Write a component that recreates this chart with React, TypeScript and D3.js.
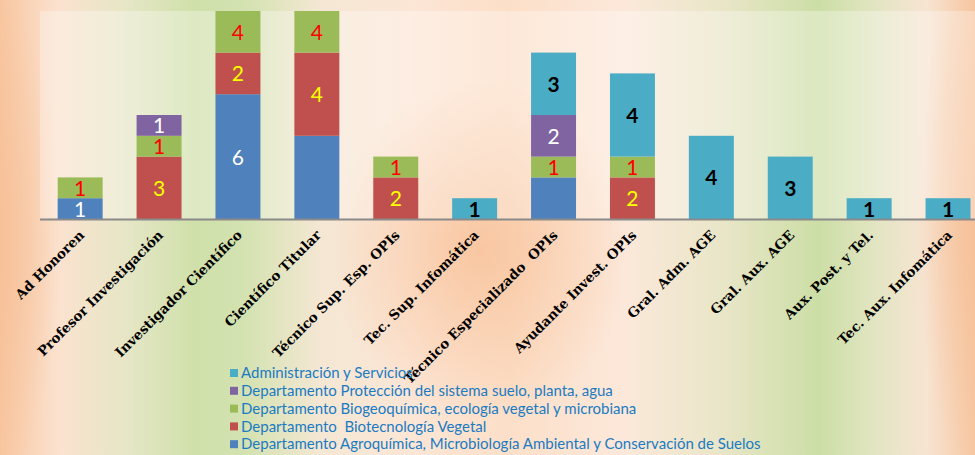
import React from "react";
import * as d3 from "d3";

const categories = [
  "Ad Honoren",
  "Profesor Investigación",
  "Investigador Científico",
  "Científico Titular",
  "Técnico Sup. Esp. OPIs",
  "Tec. Sup. Infomática",
  "Técnico Especializado  OPIs",
  "Ayudante Invest. OPIs",
  "Gral. Adm. AGE",
  "Gral. Aux. AGE",
  "Aux. Post. y Tel.",
  "Tec. Aux. Infomática",
];

// stacked bottom -> top
const agroquimica = [1, 0, 6, 4, 0, 0, 2, 0, 0, 0, 0, 0];
const biotecnologia = [0, 3, 2, 4, 2, 0, 0, 2, 0, 0, 0, 0];
const biogeoquimica = [1, 1, 4, 4, 1, 0, 1, 1, 0, 0, 0, 0];
const proteccion = [0, 1, 0, 0, 0, 0, 2, 0, 0, 0, 0, 0];
const administracion = [0, 0, 0, 0, 0, 1, 3, 4, 4, 3, 1, 1];

const seriesNames = [
  "Departamento Agroquímica, Microbiología Ambiental y Conservación de Suelos",
  "Departamento  Biotecnología Vegetal",
  "Departamento Biogeoquímica, ecología vegetal y microbiana",
  "Departamento Protección del sistema suelo, planta, agua",
  "Administración y Servicios",
];
const seriesValues = [agroquimica, biotecnologia, biogeoquimica, proteccion, administracion];
const seriesColors = ["#4F81BD", "#C0504D", "#9BBB59", "#8064A2", "#4BACC6"];
const labelColors = ["#FFFFFF", "#FFFF00", "#FF0000", "#FFFFFF", "#000000"];
const labelWeights = [400, 400, 400, 400, 700];
// data labels not shown in the source (series index, category)
const hiddenLabels = ["0|Científico Titular", "0|Técnico Especializado  OPIs"];

const yMax = 10;

export default function App() {
  const W = 975;
  const H = 455;
  const top = 11;
  const bottom = 219;
  const left = 40;

  const x = d3
    .scaleBand<string>()
    .domain(categories)
    .range([left, 988.2])
    .paddingInner(0.43)
    .paddingOuter(0.224);
  const y = d3.scaleLinear().domain([0, yMax]).range([bottom, top]);

  const table = categories.map((c, i) => {
    const row: any = { cat: c };
    seriesValues.forEach((s, k) => (row["s" + k] = s[i]));
    return row;
  });
  const stack = d3.stack<any>().keys(seriesValues.map((_, k) => "s" + k));
  const stacked = stack(table);

  const clampY = (v: number) => Math.max(top, Math.min(bottom, v));

  return (
    <div style={{ position: "fixed", left: 0, top: 0 }}>
      <svg width={W} height={H} style={{ display: "block" }}>
        <defs>
          <linearGradient id="bg" x1="0" y1="0" x2="1" y2="0">
            <stop offset="0" stopColor="#F8C6A0" />
            <stop offset="0.06" stopColor="#FBE2CF" />
            <stop offset="0.13" stopColor="#E6E6C6" />
            <stop offset="0.2" stopColor="#CFE0AA" />
            <stop offset="0.25" stopColor="#D3E2B0" />
            <stop offset="0.33" stopColor="#F5E7D4" />
            <stop offset="0.42" stopColor="#FCE6D6" />
            <stop offset="0.52" stopColor="#FCDFC8" />
            <stop offset="0.64" stopColor="#FCE8DA" />
            <stop offset="0.74" stopColor="#E9E6C8" />
            <stop offset="0.84" stopColor="#CCDEA6" />
            <stop offset="0.9" stopColor="#E3E5C3" />
            <stop offset="0.95" stopColor="#F7E4D2" />
            <stop offset="1" stopColor="#F7C7A2" />
          </linearGradient>
          <radialGradient id="glow" cx="0.5" cy="0.5" r="0.5">
            <stop offset="0" stopColor="#F8C29A" stopOpacity="0.85" />
            <stop offset="1" stopColor="#F8C29A" stopOpacity="0" />
          </radialGradient>
          <radialGradient id="glowL" cx="0.5" cy="0.5" r="0.5">
            <stop offset="0" stopColor="#F6BE95" stopOpacity="0.8" />
            <stop offset="1" stopColor="#F6BE95" stopOpacity="0" />
          </radialGradient>
          <clipPath id="plotClip">
            <rect x={left} y={top} width={W - left} height={bottom - top} />
          </clipPath>
        </defs>
        <rect x={0} y={0} width={W} height={H} fill="url(#bg)" />
        <ellipse cx={480} cy={250} rx={150} ry={170} fill="url(#glow)" />
        <ellipse cx={-10} cy={240} rx={70} ry={260} fill="url(#glowL)" />
        <ellipse cx={985} cy={220} rx={70} ry={260} fill="url(#glowL)" />
        <rect x={left} y={top} width={W - left} height={bottom - top} fill="#FFFFFF" opacity={0.3} />

        <g clipPath="url(#plotClip)">
          {stacked.map((layer, k) =>
            layer.map((d, i) => {
              const v = d[1] - d[0];
              if (!v) return null;
              return (
                <rect
                  key={k + "-" + i}
                  x={x(categories[i])}
                  y={y(d[1])}
                  width={x.bandwidth()}
                  height={y(d[0]) - y(d[1])}
                  fill={seriesColors[k]}
                />
              );
            })
          )}
        </g>

        {stacked.map((layer, k) =>
          layer.map((d, i) => {
            const v = d[1] - d[0];
            if (!v) return null;
            if (hiddenLabels.includes(k + "|" + categories[i])) return null;
            const y0 = clampY(y(d[0]));
            const y1 = clampY(y(d[1]));
            const cy = (y0 + y1) / 2;
            return (
              <text
                key={"l" + k + "-" + i}
                x={(x(categories[i]) as number) + x.bandwidth() / 2}
                y={cy}
                dy="0.38em"
                textAnchor="middle"
                fontFamily="Lato, 'Open Sans', sans-serif"
                fontSize={21}
                fontWeight={labelWeights[k]}
                fill={labelColors[k]}
              >
                {v}
              </text>
            );
          })
        )}

        <line x1={left} x2={W} y1={bottom + 0.5} y2={bottom + 0.5} stroke="#8A8A8A" strokeWidth={2} />

        {categories.map((c) => {
          const cx = (x(c) as number) + x.bandwidth() / 2;
          return (
            <text
              key={"c" + c}
              transform={`translate(${cx + 5},${bottom + 17}) rotate(-45)`}
              textAnchor="end"
              fontFamily="'DejaVu Serif', serif"
              fontWeight={700}
              fontSize={13.5}
              fill="#000"
              style={{ whiteSpace: "pre" }}
            >
              {c}
            </text>
          );
        })}

        {seriesNames
          .map((n, k) => ({ n, k }))
          .reverse()
          .map((s, j) => {
            const ly = 373 + j * 17.8;
            return (
              <g key={"lg" + s.k}>
                <rect x={230} y={ly - 4} width={8} height={8} fill={seriesColors[s.k]} />
                <text
                  x={241}
                  y={ly}
                  dy="0.35em"
                  fontFamily="Lato, sans-serif"
                  fontSize={15}
                  fill="#1B7BC2"
                  style={{ whiteSpace: "pre" }}
                >
                  {s.n}
                </text>
              </g>
            );
          })}
      </svg>
    </div>
  );
}
